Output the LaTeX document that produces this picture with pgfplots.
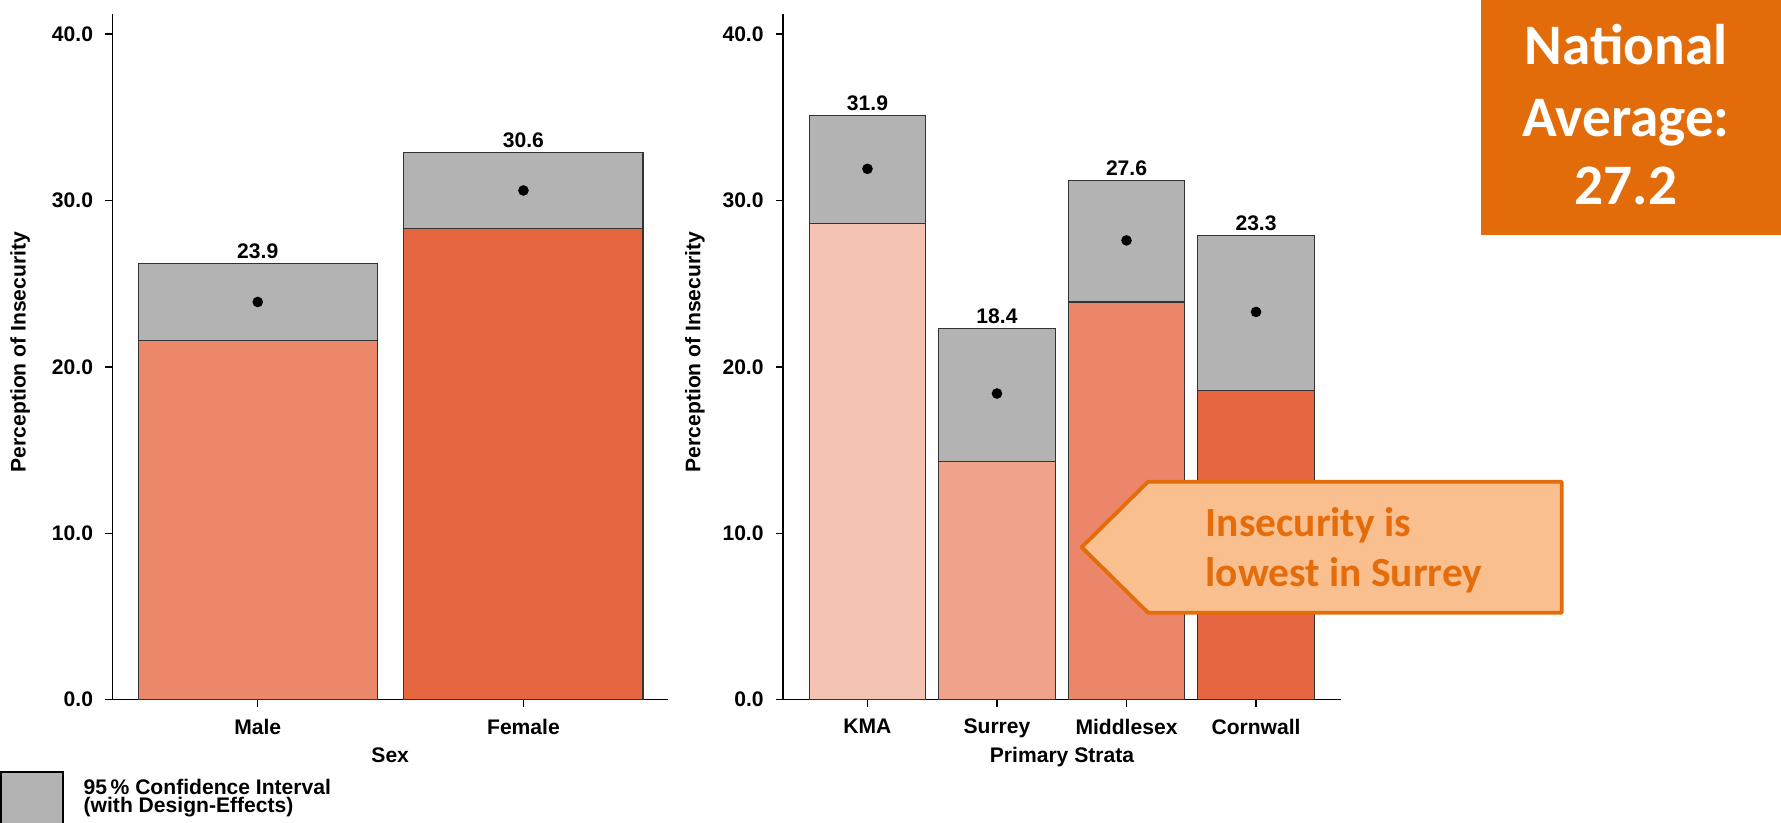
\documentclass[border=0pt]{standalone}
\usepackage{pgfplots}
\pgfplotsset{compat=1.18}
\usepackage{fontspec}
\setmainfont{Liberation Sans}
\newfontfamily\calibri{Carlito}
\definecolor{cigrey}{HTML}{B3B3B3}
\definecolor{cMale}{RGB}{236,135,105}
\definecolor{cFemale}{RGB}{229,102,63}
\definecolor{cKMA}{RGB}{245,195,178}
\definecolor{cSurrey}{RGB}{240,162,138}
\definecolor{cMiddlesex}{RGB}{236,134,106}
\definecolor{cCornwall}{RGB}{229,102,63}
\definecolor{natorange}{RGB}{227,108,10}
\definecolor{callfill}{RGB}{249,191,143}
\definecolor{callorange}{RGB}{228,108,10}
\newcommand{\sfont}{\bfseries\fontsize{6}{7}\selectfont}
\pgfplotsset{
  panel/.style={
    scale only axis, anchor=south west,
    ymin=0, ymax=41.2,
    ytick={0,10,20,30,40},
    axis x line=bottom, axis y line=left,
    axis line style={-, line width=0.4pt, black},
    tick align=outside,
    major tick length=0.7mm,
    tick style={black, line width=0.4pt},
    yticklabel style={/pgf/number format/.cd, fixed, fixed zerofill, precision=1, assume math mode=true},
    ticklabel style={font=\sfont},
    label style={font=\sfont},
    xlabel style={at={(axis description cs:0.5,0)}, anchor=base, yshift=-6.3mm},
    clip=false,
  },
  mybar/.style={ybar, bar width=0.9, bar shift=0pt, draw=black!80, line width=0.3pt},
  meanpt/.style={only marks, mark=*, mark size=1.3pt, black, mark options={draw=black, fill=black}},
  vlab/.style={draw=none, mark=none, nodes near coords, point meta=explicit symbolic,
    nodes near coords style={font=\sfont, anchor=south, inner sep=1.2pt, black}},
}
\begin{document}
\begin{tikzpicture}[x=1mm,y=1mm]
\clip (0,0) rectangle (178.1,82.3);
\path[use as bounding box] (0,0) rectangle (178.1,82.3);

% Left panel: Sex
\begin{axis}[panel,
  at={(11.24mm,12.33mm)}, width=55.56mm, height=68.56mm,
  xmin=-0.547, xmax=1.544,
  xtick={0,1}, xticklabels={Male,Female},
  xlabel={Sex},
  ylabel={Perception of Insecurity},
  ylabel style={at={(axis description cs:-0.166,0.507)}, anchor=center},
]
\addplot[mybar, fill=cigrey] coordinates {(0,26.2) (1,32.9)};
\addplot[mybar, fill=cMale] coordinates {(0,21.6)};
\addplot[mybar, fill=cFemale] coordinates {(1,28.3)};
\addplot[meanpt] coordinates {(0,23.9) (1,30.6)};
\addplot[vlab] coordinates {(0,26.2)[23.9] (1,32.9)[30.6]};
\end{axis}

% Right panel: Primary Strata
\begin{axis}[panel,
  at={(78.3mm,12.33mm)}, width=55.8mm, height=68.56mm,
  xmin=-0.652, xmax=3.656,
  xtick={0,1,2,3}, xticklabels={KMA,Surrey,Middlesex,Cornwall},
  xlabel={Primary Strata},
  ylabel={Perception of Insecurity},
  ylabel style={at={(axis description cs:-0.158,0.507)}, anchor=center},
]
\addplot[mybar, fill=cigrey] coordinates {(0,35.1) (1,22.3) (2,31.2) (3,27.9)};
\addplot[mybar, fill=cKMA] coordinates {(0,28.6)};
\addplot[mybar, fill=cSurrey] coordinates {(1,14.3)};
\addplot[mybar, fill=cMiddlesex] coordinates {(2,23.9)};
\addplot[mybar, fill=cCornwall] coordinates {(3,18.6)};
\addplot[meanpt] coordinates {(0,31.9) (1,18.4) (2,27.6) (3,23.3)};
\addplot[vlab] coordinates {(0,35.1)[31.9] (1,22.3)[18.4] (2,31.2)[27.6] (3,27.9)[23.3]};
\end{axis}

% Legend
\draw[black, line width=0.4pt, fill=cigrey] (0.1,-1) rectangle (6.3,5.1);
\node[anchor=base west, inner sep=0pt, font=\sfont] at (8.3,2.85) {95\,\% Confidence Interval};
\node[anchor=base west, inner sep=0pt, font=\sfont] at (8.3,1.05) {(with Design-Effects)};

% Callout
\draw[callorange, line width=1.1pt, line join=round, fill=callfill]
  (108.17,27.58) -- (114.8,34.13) -- (156.17,34.13) -- (156.17,21.03) -- (114.8,21.03) -- cycle;
\node[anchor=base west, inner sep=0pt, text=callorange, font=\calibri\bfseries\fontsize{11.8}{14}\selectfont] at (120.5,28.63) {Insecurity is};
\node[anchor=base west, inner sep=0pt, text=callorange, font=\calibri\bfseries\fontsize{11.8}{14}\selectfont] at (120.5,23.63) {lowest in Surrey};

% National average box
\fill[natorange] (148.1,58.8) rectangle (178.2,82.4);
\node[anchor=base, inner sep=0pt, text=white, font=\calibri\bfseries\fontsize{16.3}{19.9}\selectfont] at (162.6,75.8) {National};
\node[anchor=base, inner sep=0pt, text=white, font=\calibri\bfseries\fontsize{16.3}{19.9}\selectfont] at (162.6,68.6) {Average:};
\node[anchor=base, inner sep=0pt, text=white, font=\calibri\bfseries\fontsize{16.3}{19.9}\selectfont] at (162.6,61.8) {27.2};
\end{tikzpicture}
\end{document}
